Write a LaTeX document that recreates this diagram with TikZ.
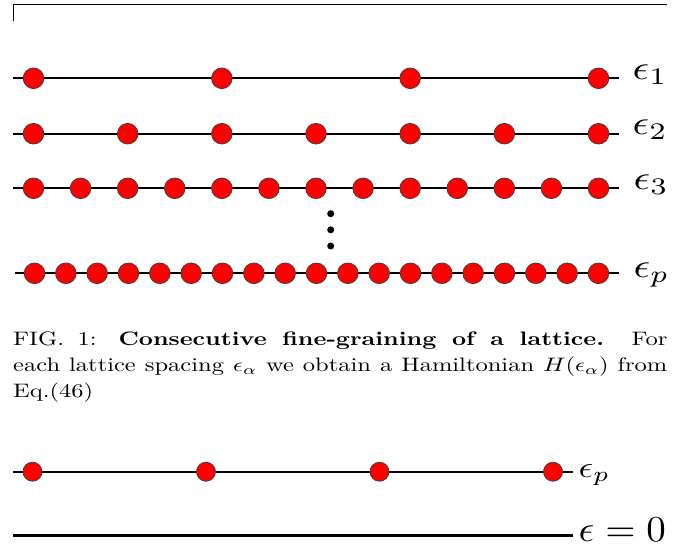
\documentclass[tikz,border=0pt]{standalone}
\usepackage{graphicx}
\usetikzlibrary{calc}
\tikzset{
  site/.style={circle,draw=black!75,line width=0.8pt,fill=red,minimum size=20.6pt,inner sep=0pt},
  smallsite/.style={site,minimum size=19pt},
  rung/.style={draw=black,line width=2.2pt},
  thickrung/.style={draw=black,line width=3pt},
  lbl/.style={anchor=base west,inner sep=0pt},
  vdot/.style={circle,fill=black,inner sep=0pt,minimum size=7pt},
  frame/.style={draw=black,line width=1pt}
}
\newcommand{\biglbl}[1]{\scalebox{4.1}[3.4]{$#1$}}
\begin{document}
\begin{tikzpicture}[x=1pt,y=-1pt]
\useasboundingbox (0,0) rectangle (696,547);
% top frame corner
\coordinate (fa) at (13.5,20.5);
\coordinate (fb) at (13.5,4.5);
\coordinate (fc) at (667,4.5);
\draw[frame] (fa) -- (fb) -- (fc);
% row 1
\coordinate (r1s) at (13,78.3); \coordinate (r1e) at (619,78.3);
\draw[rung] (r1s) -- (r1e);
\foreach \i in {0,...,3} \node[site] (a\i) at ({33.5+188.33*\i},78.3) {};
\node[lbl] (l1) at (632.5,79.5) {\biglbl{\epsilon_1}};
% row 2
\coordinate (r2s) at (13,133.7); \coordinate (r2e) at (619,133.7);
\draw[rung] (r2s) -- (r2e);
\foreach \i in {0,...,6} \node[site] (b\i) at ({33.5+94.167*\i},133.7) {};
\node[lbl] (l2) at (632.5,134.5) {\biglbl{\epsilon_2}};
% row 3
\coordinate (r3s) at (13,188.3); \coordinate (r3e) at (619,188.3);
\draw[rung] (r3s) -- (r3e);
\foreach \i in {0,...,12} \node[site] (c\i) at ({33.5+47.083*\i},188.3) {};
\node[lbl] (l3) at (633.5,189.5) {\biglbl{\epsilon_3}};
% vertical dots
\node[vdot] (d1) at (330.7,213.7) {};
\node[vdot] (d2) at (330.7,229.8) {};
\node[vdot] (d3) at (330.7,246) {};
% row p
\coordinate (rps) at (15,273.3); \coordinate (rpe) at (619,273.3);
\draw[rung] (rps) -- (rpe);
\foreach \i in {0,...,18} \node[site] (p\i) at ({34.5+31.333*\i},273.3) {};
\node[lbl] (lp) at (633.5,277.5) {\biglbl{\epsilon_p}};
% caption
\node[lbl] (cap) at (13,345.7)
 {\scalebox{2.45}[1.95]{\parbox[t]{267pt}{\fontsize{10}{13.33}\selectfont
  FIG.~1: \textbf{Consecutive fine-graining of a lattice.} For\linebreak
  each lattice spacing $\epsilon_\alpha$ we obtain a Hamiltonian $H(\epsilon_\alpha)$ from\linebreak
  Eq.(46)}}};
% bottom row p
\coordinate (bs) at (13,471.7); \coordinate (be) at (572.7,471.7);
\draw[line width=2pt] (bs) -- (be);
\foreach \i in {0,...,3} \node[smallsite] (q\i) at ({32.5+173.5*\i},471.7) {};
\node[lbl] (lq) at (578.5,477) {\scalebox{3.6}[3.0]{$\epsilon_p$}};
% continuum
\coordinate (zs) at (13,535.7); \coordinate (ze) at (572.7,535.7);
\draw[thickrung] (zs) -- (ze);
\node[lbl] (lz) at (578.5,541) {\scalebox{3.9}[3.65]{$\epsilon=0$}};
\end{tikzpicture}
\end{document}
